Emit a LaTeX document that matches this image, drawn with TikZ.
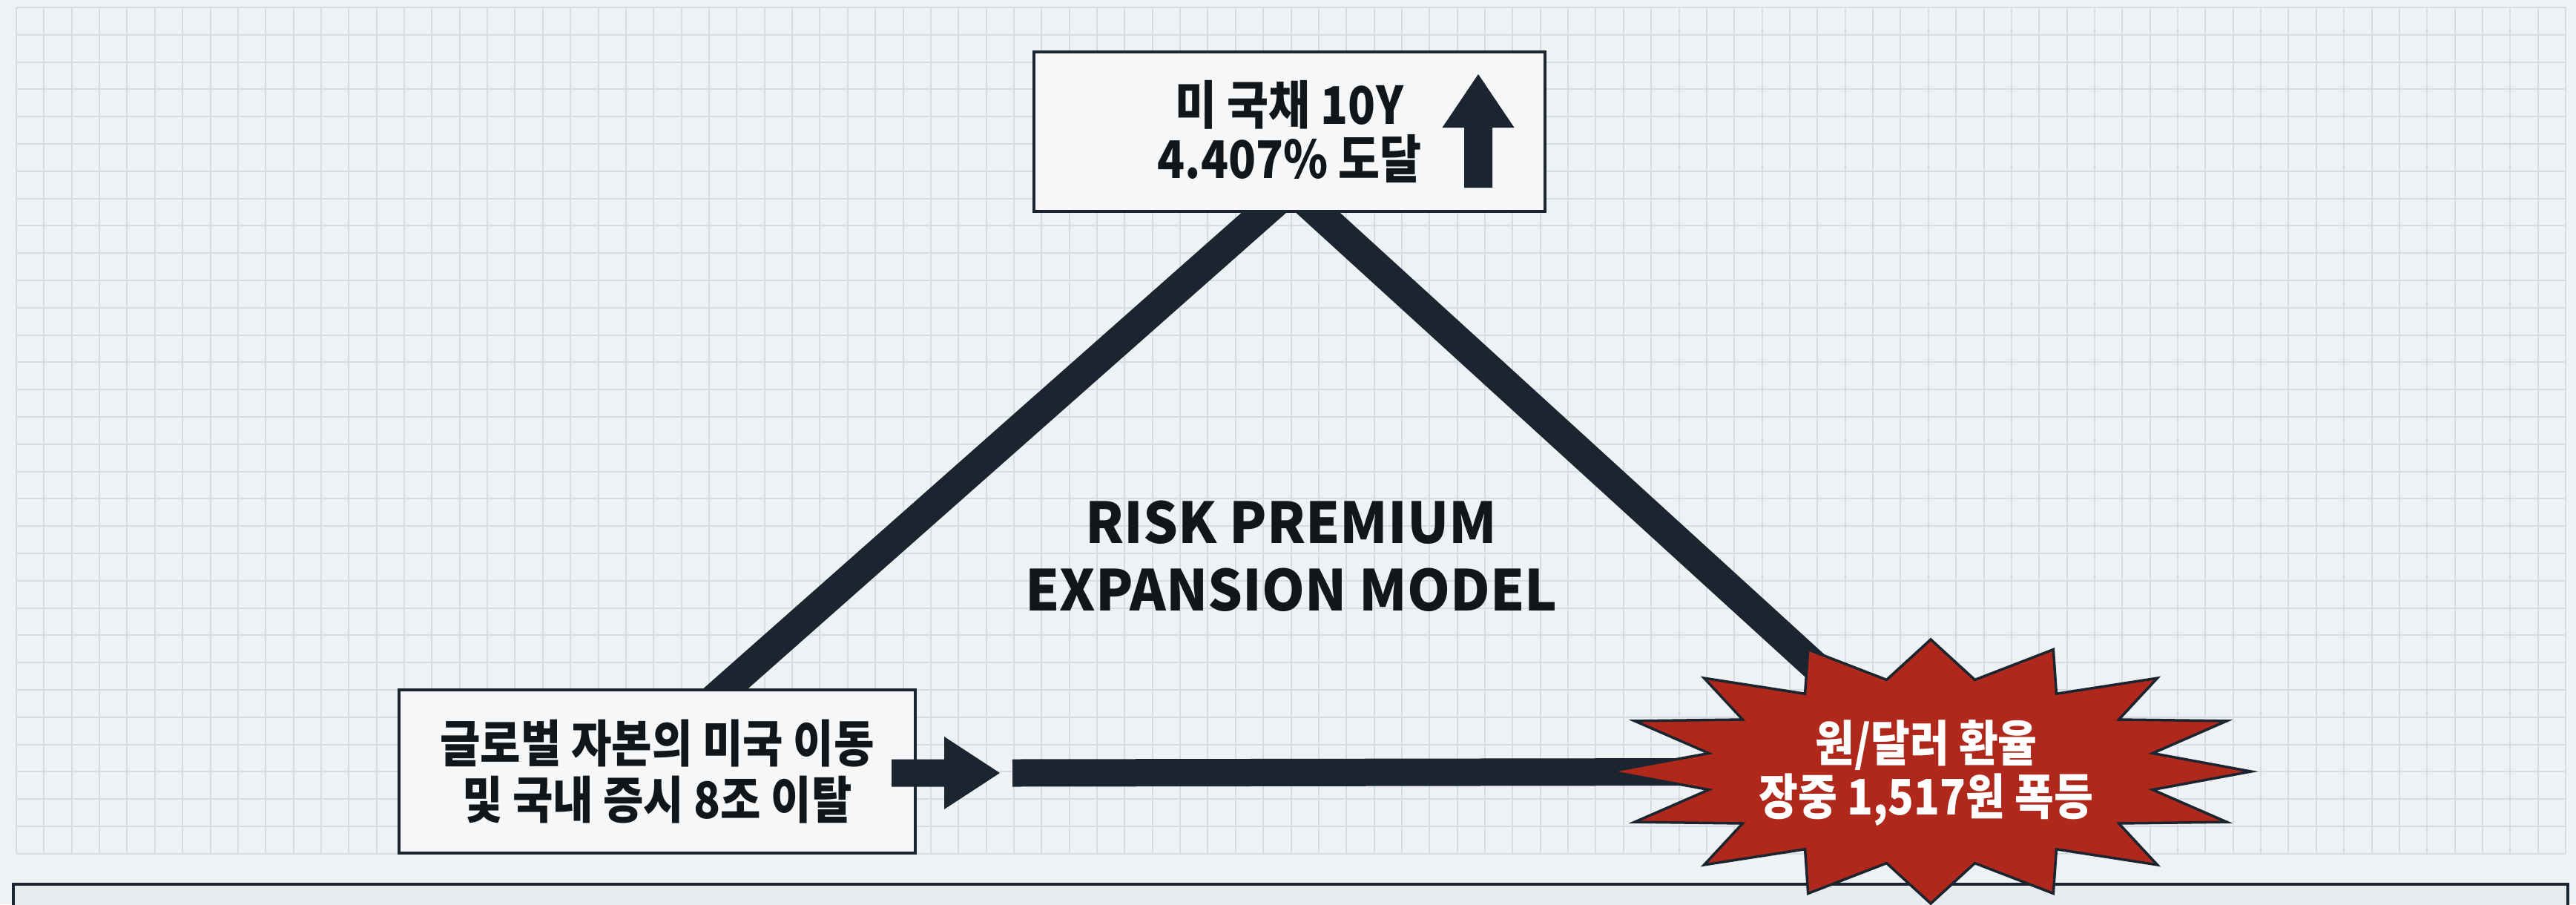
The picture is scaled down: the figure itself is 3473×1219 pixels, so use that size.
\documentclass[tikz,border=0pt]{standalone}
\usepackage{fontspec}
\newfontfamily\krf{Noto Sans CJK KR}[FakeStretch=0.87]
\newfontfamily\enf{Noto Sans CJK KR}[FakeStretch=0.97]
\usetikzlibrary{calc}
\definecolor{bgc}{HTML}{EFF2F5}
\definecolor{gridc}{HTML}{D7DCE1}
\definecolor{ink}{HTML}{1B2530}
\definecolor{txt}{HTML}{121619}
\definecolor{boxc}{HTML}{F5F7F9}
\definecolor{barc}{HTML}{E8EBEE}
\definecolor{redc}{HTML}{B0281C}
\pgfdeclarelayer{bg}
\pgfdeclarelayer{lines}
\pgfsetlayers{bg,lines,main}
\begin{document}
\begin{tikzpicture}[x=1pt,y=-1pt,
  infobox/.style={draw=ink, line width=4pt, fill=boxc, inner sep=0pt, align=center, text=txt},
  legline/.style={draw=ink, line width=40pt},
  gridline/.style={draw=gridc, line width=2pt}]
\useasboundingbox (0,0) rectangle (3473,1219);

\begin{pgfonlayer}{bg}
\fill[bgc] (0,0) rectangle (3473,1219);
\foreach \i in {0,...,92} \draw[gridline] ({22+\i*37.359},10) -- ({22+\i*37.359},1151);
\foreach \j in {0,...,31} \draw[gridline] (22,{10+\j*36.8}) -- (3459,{10+\j*36.8});
\draw[ink, line width=4pt, fill=barc] (18,1192) rectangle (3462,1240);
\end{pgfonlayer}

% named points
\coordinate (apex) at (1741,254);
\coordinate (lend) at (852,1040);
\coordinate (bc) at (2603,1040);
\coordinate (barstart) at (1365,1042);
\coordinate (arrtail) at (1202,1042);
\coordinate (arrtip) at (1348,1042);
\coordinate (upb) at (1993,253);
\coordinate (upt) at (1993,100);

% boxes
\node[infobox, minimum width=689pt, minimum height=215pt,
      font=\krf\bfseries\fontsize{70}{73}\selectfont] (top) at (1738.5,177.5)
  {미 국채 10Y\\4.407\% 도달};
\node[infobox, minimum width=696pt, minimum height=220pt,
      font=\krf\bfseries\fontsize{68}{76}\selectfont] (lbox) at (886,1040)
  {글로벌 자본의 미국 이동\\및 국내 증시 8조 이탈};

% up arrow icon
\fill[ink] ($(upb)+(-19,0)$) -- ($(upt)+(-19,72)$) -- ($(upt)+(-48.5,72)$) -- (upt)
  -- ($(upt)+(48.5,72)$) -- ($(upt)+(19,72)$) -- ($(upb)+(19,0)$) -- cycle;

% block arrow from left box
\fill[ink] ($(arrtail)+(0,-18.5)$) -- ($(arrtip)+(-75,-18.5)$) -- ($(arrtip)+(-75,-49)$)
  -- (arrtip) -- ($(arrtip)+(-75,49)$) -- ($(arrtip)+(-75,18.5)$) -- ($(arrtail)+(0,18.5)$) -- cycle;

% starburst
\draw[fill=redc, draw=ink, line width=3.5pt, line join=miter, miter limit=20]
  ($(bc)+(0:432 and 178)$)
  \foreach \a [evaluate=\a as \b using \a+11.25, evaluate=\a as \c using \a+22.5] in {0,22.5,...,337.5}
  { -- ($(bc)+(\b:305 and 126)$) -- ($(bc)+(\c:432 and 178)$) } -- cycle;
\node[font=\krf\bfseries\fontsize{66}{72}\selectfont, text=white, align=center, inner sep=0pt]
  (burst) at ($(bc)+(-6,2)$) {원/달러 환율\\장중 1,517원 폭등};

% title
\node[font=\enf\bfseries\fontsize{76}{91}\selectfont, text=txt, align=center, inner sep=0pt]
  (title) at (1741,750) {RISK PREMIUM\\EXPANSION MODEL};

% connectors behind
\begin{pgfonlayer}{lines}
\draw[legline] (apex) -- (lend);
\draw[legline] (apex) -- (bc);
\draw[ink, line width=37pt] (barstart) -- (bc);
\end{pgfonlayer}
\end{tikzpicture}
\end{document}
